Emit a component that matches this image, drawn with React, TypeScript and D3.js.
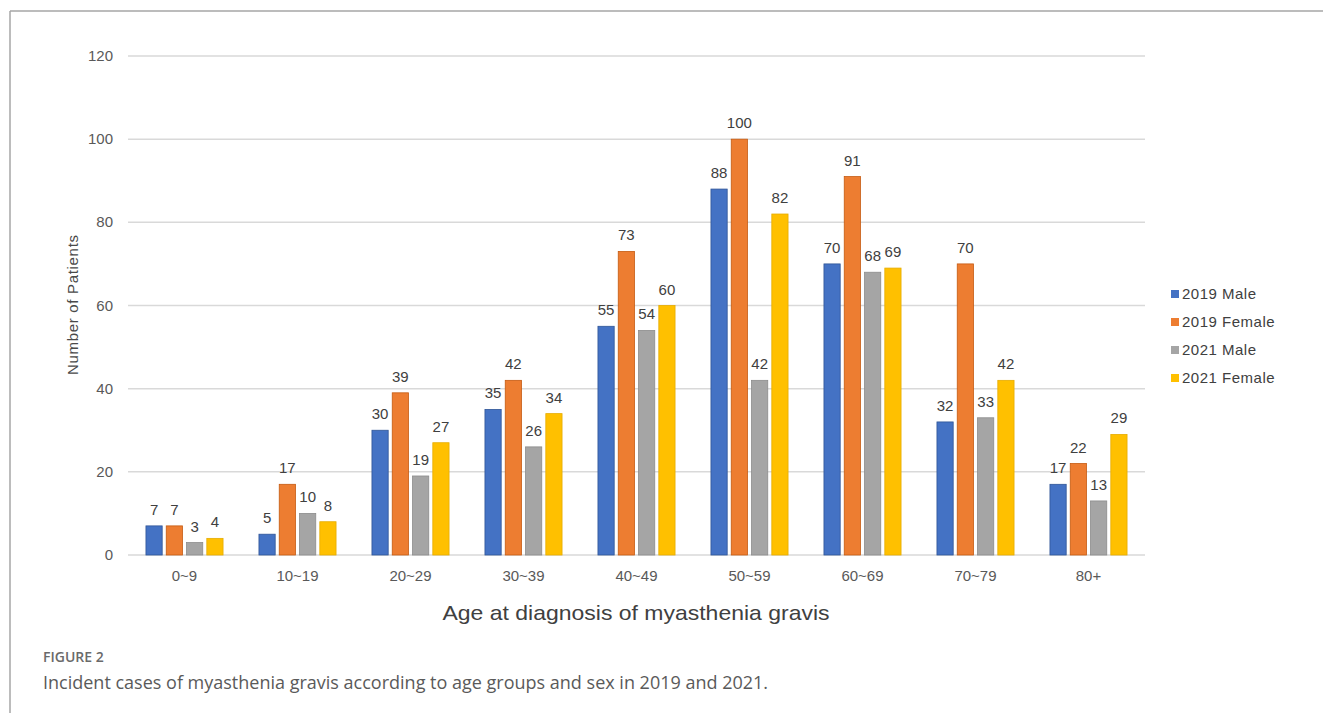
import React from "react";
import * as d3 from "d3";

const categories = ["0~9", "10~19", "20~29", "30~39", "40~49", "50~59", "60~69", "70~79", "80+"];
const seriesNames = ["2019 Male", "2019 Female", "2021 Male", "2021 Female"];
const male2019 = [7, 5, 30, 35, 55, 88, 70, 32, 17];
const female2019 = [7, 17, 39, 42, 73, 100, 91, 70, 22];
const male2021 = [3, 10, 19, 26, 54, 42, 68, 33, 13];
const female2021 = [4, 8, 27, 34, 60, 82, 69, 42, 29];
const yTicks = [0, 20, 40, 60, 80, 100, 120];
const colors = ["#4472C4", "#ED7D31", "#A5A5A5", "#FFC000"];
const strokes = ["#2F5597", "#C55A11", "#8C8C8C", "#E6AC00"];

const seriesValues = [male2019, female2019, male2021, female2021];

export default function App() {
  const W = 1323, H = 713;
  const left = 128, right = 1145, top = 56, bottom = 555;
  const x = d3.scaleBand<string>().domain(categories).range([left, right]).padding(0);
  const xs = d3.scaleBand<string>().domain(seriesNames).range([0, x.bandwidth()]).paddingInner(0.2).paddingOuter(0.885);
  const y = d3.scaleLinear().domain([0, 120]).range([bottom, top]);
  const font = "'Liberation Sans', Arial, sans-serif";

  return (
    <svg width={W} height={H} style={{ position: "absolute", left: 0, top: 0 }}>
      <rect x={0} y={0} width={W} height={H} fill="#fff" />
      <line x1={10} y1={11} x2={W} y2={11} stroke="#a6a6a6" strokeWidth={1.5} />
      <line x1={10} y1={11} x2={10} y2={H} stroke="#a6a6a6" strokeWidth={1.5} />
      {yTicks.map((t) => (
        <g key={t}>
          <line x1={left} x2={right} y1={y(t)} y2={y(t)} stroke="#d9d9d9" strokeWidth={1.5} />
          <text x={113} y={y(t) + 5} textAnchor="end" fontFamily={font} fontSize={15} fill="#595959">{t}</text>
        </g>
      ))}
      {categories.map((c, i) => (
        <g key={c}>
          {seriesNames.map((s, j) => {
            const v = seriesValues[j][i];
            const bx = (x(c) as number) + (xs(s) as number);
            return (
              <g key={s}>
                <rect x={bx} y={y(v)} width={xs.bandwidth()} height={y(0) - y(v)} fill={colors[j]} stroke={strokes[j]} strokeWidth={0.8} />
                <text x={bx + xs.bandwidth() / 2} y={y(v) - 11} textAnchor="middle" fontFamily={font} fontSize={15} fill="#404040">{v}</text>
              </g>
            );
          })}
          <text x={(x(c) as number) + x.bandwidth() / 2} y={581} textAnchor="middle" fontFamily={font} fontSize={15} fill="#595959">{c}</text>
        </g>
      ))}
      <text transform={`translate(78,305) rotate(-90)`} textAnchor="middle" fontFamily={font} fontSize={15} fill="#4a4a4a" textLength={140} lengthAdjust="spacing">Number of Patients</text>
      <text x={636} y={620} textAnchor="middle" fontFamily={font} fontSize={21} fill="#404040" textLength={387} lengthAdjust="spacingAndGlyphs">Age at diagnosis of myasthenia gravis</text>
      {seriesNames.map((s, j) => (
        <g key={s}>
          <rect x={1171} y={290 + j * 28} width={8} height={8} fill={colors[j]} />
          <text x={1182} y={299 + j * 28} fontFamily={font} fontSize={15} fill="#404040" letterSpacing={0.5}>{s}</text>
        </g>
      ))}
      <text x={43} y={662} fontFamily="'Open Sans', sans-serif" fontSize={14} fontWeight={600} fill="#6a6a6a">FIGURE 2</text>
      <text x={43} y={689} fontFamily="'Open Sans', sans-serif" fontSize={18} fill="#5a5a5a">Incident cases of myasthenia gravis according to age groups and sex in 2019 and 2021.</text>
    </svg>
  );
}
